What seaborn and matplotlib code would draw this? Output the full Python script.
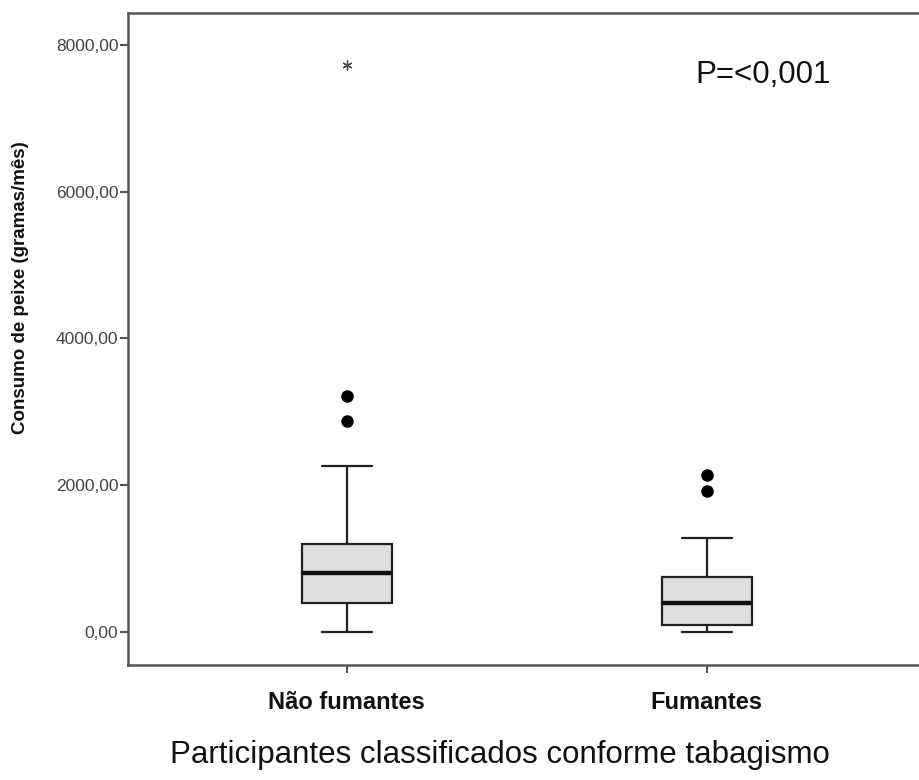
import matplotlib
matplotlib.use("Agg")
import matplotlib.pyplot as plt
import seaborn as sns
import pandas as pd

# Box summaries per smoking group (fish intake, grams/month)
groups = ["Não fumantes", "Fumantes"]
q1 = [400, 90]
median = [800, 400]
q3 = [1200, 750]
whisker_low = [0, 0]
whisker_high = [2260, 1280]

# Outliers (circles) and extreme values (asterisks)
outlier_group = ["Não fumantes", "Não fumantes", "Fumantes", "Fumantes"]
outlier_value = [3220, 2880, 2140, 1920]
extreme_group = ["Não fumantes"]
extreme_value = [7730]

y_ticks = [0, 2000, 4000, 6000, 8000]
y_label = "Consumo de peixe (gramas/mês)"
x_label = "Participantes classificados conforme tabagismo"
p_text = "P=<0,001"

sns.set_style("ticks")
plt.rcParams["font.family"] = ["Liberation Sans", "DejaVu Sans"]

fig = plt.figure(figsize=(9.19, 7.80), dpi=100)
ax = fig.add_axes([128 / 919, 1 - 665 / 780, 797 / 919, (665 - 12.7) / 780])

stats = [
    dict(med=m, q1=a, q3=b, whislo=lo, whishi=hi, fliers=[], label=g)
    for g, a, m, b, lo, hi in zip(groups, q1, median, q3, whisker_low, whisker_high)
]
positions = list(range(len(groups)))
ax.bxp(
    stats, positions=positions, widths=0.25, capwidths=0.14, patch_artist=True,
    showfliers=False,
    boxprops=dict(facecolor="#dedede", edgecolor="#222222", linewidth=1.6),
    medianprops=dict(color="#111111", linewidth=3.2),
    whiskerprops=dict(color="#222222", linewidth=1.6),
    capprops=dict(color="#222222", linewidth=1.6),
)

outliers = pd.DataFrame({"grupo": outlier_group, "valor": outlier_value})
extremes = pd.DataFrame({"grupo": extreme_group, "valor": extreme_value})
sns.stripplot(data=outliers, x="grupo", y="valor", order=groups, jitter=False,
              color="black", size=9, linewidth=0, ax=ax)
sns.stripplot(data=extremes, x="grupo", y="valor", order=groups, jitter=False,
              color="#444444", marker=(6, 2, 0), size=6.5, linewidth=0.9,
              edgecolor="#444444", ax=ax)

ax.set_xlim(-0.608, 1.606)
ax.set_ylim(-450, 8440)
ax.set_xticks(positions)
ax.set_xticklabels(groups, fontsize=17, fontweight="bold", color="#111111")
ax.set_yticks(y_ticks)
ax.set_yticklabels([f"{v:.2f}".replace(".", ",") for v in y_ticks],
                   fontsize=12.5, color="#444444")

for side in ["left", "bottom", "top", "right"]:
    ax.spines[side].set_color("#555555")
    ax.spines[side].set_linewidth(1.8)
ax.tick_params(axis="both", length=6, width=1.5, color="#555555")
ax.tick_params(axis="x", pad=13)
ax.tick_params(axis="y", pad=1)

ax.set_xlabel(x_label, fontsize=22.5, color="#111111")
ax.set_ylabel(y_label, fontsize=13.5, fontweight="bold", color="#111111")
ax.xaxis.set_label_coords((500 - 128) / 797, (665 - 755) / 652.3)
ax.yaxis.set_label_coords((20 - 128) / 797, (665 - 288) / 652.3)
ax.xaxis.label.set_va("center")
ax.yaxis.label.set_va("center")

ax.text((695 - 128) / 797, (665 - 75) / 652.3, p_text, transform=ax.transAxes,
        fontsize=22.5, color="#111111", ha="left", va="center")

fig.savefig("out.png", dpi=100, facecolor="white")
